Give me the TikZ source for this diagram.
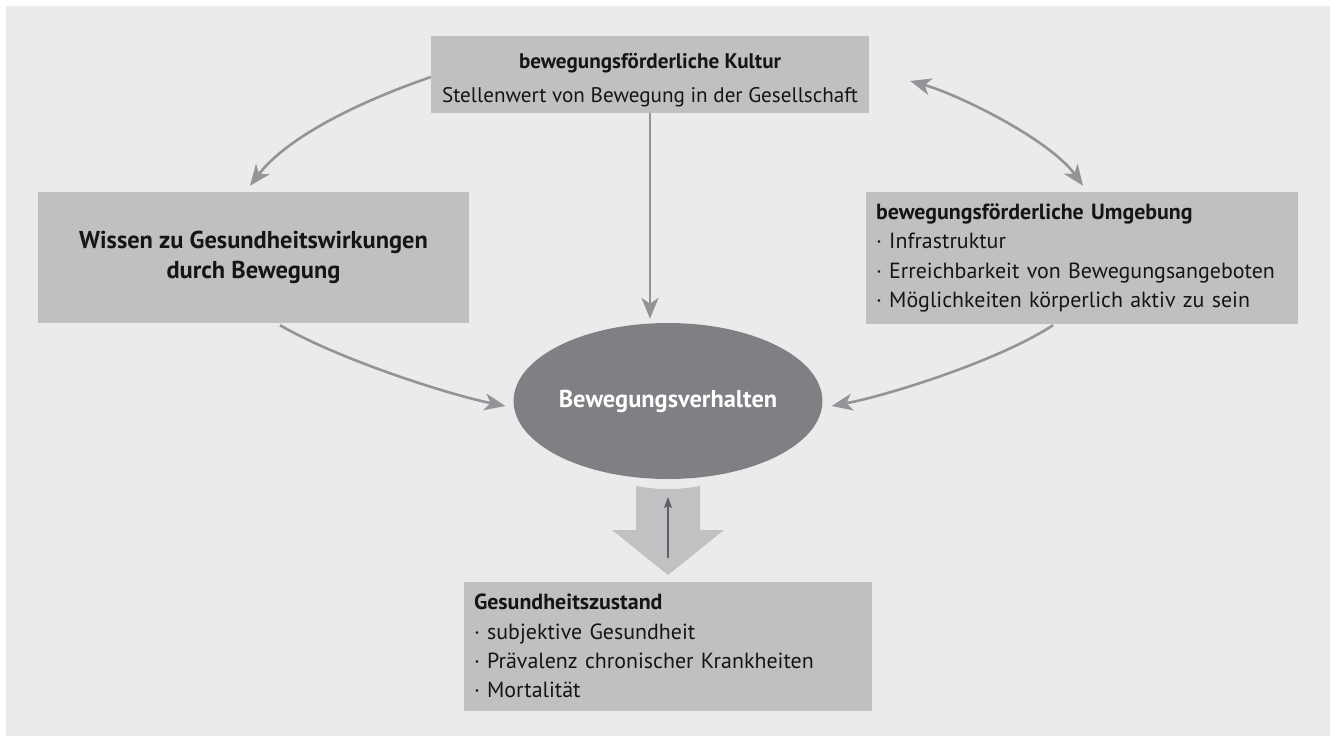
\documentclass[tikz,border=0pt]{standalone}
\usepackage{fontspec}
\setmainfont{PT Sans}
\usetikzlibrary{arrows.meta,shapes.geometric,calc}
\definecolor{bg}{HTML}{EBEBEB}
\definecolor{boxfill}{HTML}{BFC0C2}
\definecolor{ellfill}{HTML}{7F8084}
\definecolor{arrowgray}{HTML}{939497}
\definecolor{bigarrow}{HTML}{C0C1C3}
\definecolor{darkline}{HTML}{5E5F62}
\definecolor{txt}{HTML}{151515}
\tikzset{
  graybox/.style={fill=boxfill, draw=none, inner sep=0pt, text=txt,
    font=\fontsize{22}{29.5}\selectfont},
  listbox/.style={graybox, align=left, inner xsep=10bp},
  conn/.style={draw=arrowgray, line width=2.6bp,
    -{Stealth[length=21bp,width=17bp,inset=6bp]}},
  dconn/.style={draw=arrowgray, line width=2.6bp,
    {Stealth[length=21bp,width=17bp,inset=6bp]}-{Stealth[length=21bp,width=17bp,inset=6bp]}}
}
\begin{document}
\begin{tikzpicture}[x=1bp,y=-1bp]
\useasboundingbox (0,0) rectangle (1335,736);
\fill[white] (0,0) rectangle (1335,736);
\fill[bg] (6,6) rectangle (1330,736);

% boxes
\node[graybox, minimum width=438bp, minimum height=77bp] (top) at (650,74.5) {};
\node[text=txt, inner sep=0pt, align=center, font=\fontsize{21.2}{34}\selectfont] (toptext) at (650,80)
  {\textbf{bewegungsförderliche Kultur}\\Stellenwert von Bewegung in der Gesellschaft};
\node[graybox, minimum width=431bp, minimum height=131bp, align=center,
  font=\fontsize{24.5}{30}\selectfont\bfseries] (left) at (253.5,257.5)
  {Wissen zu Gesundheitswirkungen\\durch Bewegung};
\node[listbox, minimum width=432bp, minimum height=132bp, text width=412bp] (right) at (1082,258)
  {\textbf{bewegungsförderliche Umgebung}\\
   · Infrastruktur\\
   · Erreichbarkeit von Bewegungsangeboten\\
   · Möglichkeiten körperlich aktiv zu sein};
\node[listbox, minimum width=408bp, minimum height=129bp, text width=388bp] (bottom) at (668,646)
  {\textbf{Gesundheitszustand}\\
   · subjektive Gesundheit\\
   · Prävalenz chronischer Krankheiten\\
   · Mortalität};
\node[ellipse, fill=ellfill, minimum width=250bp, minimum height=156bp, inner sep=0pt,
  text=white, font=\fontsize{24.5}{30}\selectfont\bfseries] (ell) at (668,401) {Bewegungsverhalten};

% big arrow
\fill[bigarrow] (636,486) .. controls (657,490) and (679,490) .. (700,486)
  -- (700,530) -- (724,530) -- (668,575) -- (612,530) -- (636,530) -- cycle;
\coordinate (tb) at (668,558);
\coordinate (tt) at (668,497);
\draw[darkline, line width=1.4bp, -{Stealth[length=11bp,width=8bp,inset=2bp]}] (tb) -- (tt);

% connectors
\coordinate (a1s) at ($(top.west)+(0,2.5)$);
\coordinate (a1e) at ($(left.north)+(-3.5,-6)$);
\draw[conn] (a1s) .. controls (350,105) and (285,140) .. (a1e);

\coordinate (a2s) at ($(top.east)+(41,6.5)$);
\coordinate (a2e) at ($(right.north)+(1,-6)$);
\draw[dconn] (a2s) .. controls (960,95) and (1050,140) .. (a2e);

\draw[conn] (top.south) -- ($(top.south |- ell.north)+(0,-4)$);

\coordinate (a4s) at ($(left.south)+(26.5,2)$);
\coordinate (a4e) at ($(ell.west)+(-8,5)$);
\draw[conn] (a4s) .. controls (340,360) and (450,395) .. (a4e);

\coordinate (a5s) at ($(right.south)+(-29,1)$);
\coordinate (a5e) at ($(ell.east)+(9,5)$);
\draw[conn] (a5s) .. controls (1000,360) and (890,395) .. (a5e);
\end{tikzpicture}
\end{document}
